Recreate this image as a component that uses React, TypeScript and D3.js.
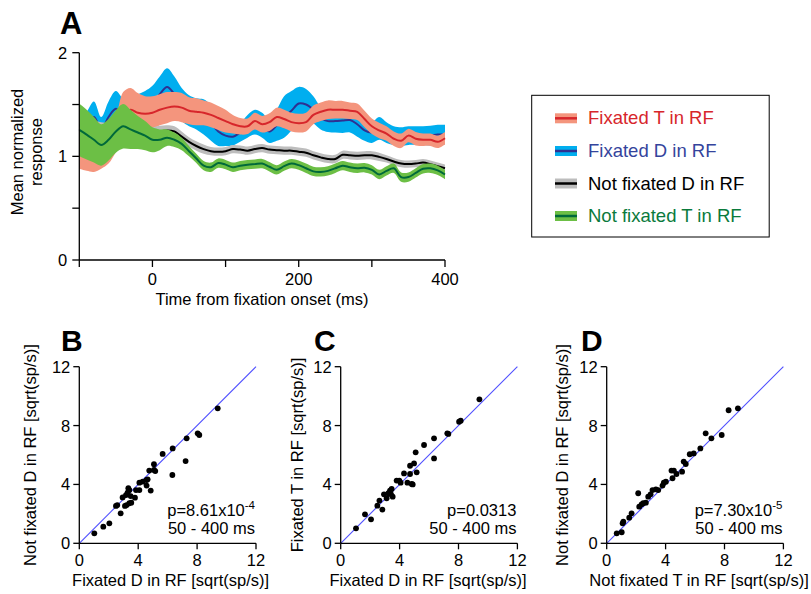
import React from "react";
import * as d3 from "d3";

// ---------- Panel A data ----------
const times = d3.range(-100, 401, 10);

const fixTMean = [1.13,1.10,1.08,1.10,1.13,1.22,1.38,1.45,1.42,1.41,1.42,1.45,1.47,1.48,1.47,1.44,1.43,1.42,1.40,1.37,1.34,1.31,1.29,1.29,1.34,1.31,1.33,1.38,1.36,1.33,1.32,1.33,1.40,1.43,1.45,1.45,1.45,1.44,1.43,1.36,1.29,1.25,1.22,1.17,1.15,1.20,1.17,1.16,1.16,1.14,1.175];
const fixTErr = [.25,.24,.23,.22,.2,.18,.24,.21,.19,.17,.16,.15,.15,.14,.14,.13,.13,.12,.12,.115,.11,.09,.08,.075,.08,.08,.085,.09,.09,.09,.09,.09,.09,.09,.09,.085,.085,.08,.08,.08,.075,.075,.07,.07,.07,.065,.065,.06,.06,.06,.06];

const fixDMean = [1.25,1.30,1.38,1.26,1.38,1.46,1.40,1.42,1.45,1.48,1.52,1.60,1.67,1.60,1.50,1.44,1.41,1.38,1.32,1.24,1.20,1.19,1.23,1.29,1.33,1.30,1.24,1.30,1.38,1.44,1.51,1.50,1.45,1.37,1.34,1.34,1.345,1.35,1.31,1.25,1.23,1.27,1.23,1.20,1.19,1.20,1.20,1.20,1.20,1.21,1.21];
const fixDErr = [.12,.13,.15,.12,.15,.17,.16,.15,.15,.15,.16,.17,.18,.17,.16,.15,.15,.17,.17,.14,.1,.085,.09,.11,.12,.12,.11,.15,.2,.19,.16,.15,.13,.11,.105,.11,.12,.12,.12,.1,.1,.11,.1,.09,.09,.09,.09,.09,.095,.095,.095];

const notFixDMean = [1.30,1.29,1.28,1.27,1.26,1.25,1.24,1.23,1.22,1.22,1.22,1.24,1.25,1.24,1.19,1.14,1.10,1.07,1.05,1.045,1.05,1.07,1.065,1.055,1.07,1.08,1.065,1.06,1.055,1.055,1.045,1.035,1.01,0.99,0.975,0.975,1.015,1.01,1.005,1.01,1.01,0.995,0.975,0.95,0.93,0.925,0.93,0.94,0.925,0.905,0.885];
const notFixDErr = [.06,.06,.06,.06,.06,.06,.06,.06,.06,.06,.06,.055,.05,.05,.05,.045,.045,.045,.04,.04,.04,.04,.04,.04,.04,.04,.04,.04,.04,.04,.04,.04,.04,.04,.04,.04,.04,.04,.04,.04,.04,.04,.035,.035,.035,.035,.035,.035,.035,.035,.035];

const notFixTMean = [1.255,1.21,1.16,1.11,1.16,1.24,1.29,1.26,1.23,1.20,1.16,1.16,1.18,1.16,1.12,1.05,0.98,0.91,0.895,0.935,0.92,0.895,0.91,0.92,0.925,0.93,0.90,0.87,0.905,0.93,0.915,0.885,0.855,0.85,0.86,0.885,0.91,0.895,0.885,0.89,0.87,0.825,0.86,0.885,0.80,0.80,0.84,0.88,0.885,0.865,0.825];
const notFixTErr = [.255,.24,.22,.2,.2,.205,.215,.19,.16,.14,.12,.1,.08,.07,.06,.05,.045,.045,.045,.045,.045,.045,.045,.045,.045,.045,.045,.045,.045,.045,.045,.045,.045,.045,.045,.045,.045,.045,.045,.045,.045,.045,.045,.045,.045,.045,.045,.045,.045,.045,.045];

const xTicksA = [-100, 0, 100, 200, 300, 400];
const xLabelsA = [0, 200, 400];
const yTicksA = [0, 0.5, 1, 1.5, 2];
const yLabelsA = [0, 1, 2];

const legendLabels = ["Fixated T in RF", "Fixated D in RF", "Not fixated D in RF", "Not fixated T in RF"];

// ---------- Scatter data ----------
const bX = [1.02,1.63,2.04,2.81,2.49,2.58,2.94,3.17,3.28,3.40,3.33,3.10,3.21,3.40,3.53,3.49,3.78,3.85,4.08,4.08,4.30,4.57,4.57,4.85,4.64,4.75,5.07,5.07,5.16,5.66,6.32,6.34,7.22,7.29,8.04,8.15,9.40];
const bY = [0.68,1.13,1.36,2.04,2.54,2.60,3.12,3.28,3.44,3.62,3.74,2.54,2.60,2.72,2.76,3.21,3.10,3.62,3.62,4.12,4.19,4.30,3.92,3.58,4.35,4.94,4.98,5.37,4.91,6.07,4.64,6.45,5.59,7.13,7.47,7.36,9.17];

const cX = [1.04,1.65,2.06,2.49,2.63,2.83,2.94,3.12,3.24,3.35,3.46,3.53,3.42,3.80,3.98,4.07,4.30,4.53,4.71,4.82,4.89,4.71,4.98,5.09,5.16,5.66,6.34,6.34,7.24,7.31,8.04,8.15,9.42];
const cY = [1.02,1.97,1.63,2.56,2.90,2.29,3.33,3.06,3.40,3.58,3.69,3.17,3.33,4.26,4.26,4.12,4.75,4.12,4.71,4.03,4.00,5.27,5.43,6.18,4.82,6.68,7.13,5.77,7.47,7.43,8.26,8.33,9.78];

const dX = [0.68,1.02,1.08,1.13,1.53,1.69,2.14,2.21,2.37,2.48,2.66,2.82,2.98,3.11,3.34,3.50,3.79,3.88,4.02,4.40,4.56,4.47,4.74,5.12,5.23,5.37,5.64,5.91,6.36,6.72,7.11,7.81,8.28,8.91];
const dY = [0.68,0.75,1.36,1.47,1.74,2.04,3.40,2.49,2.65,2.72,2.76,3.17,3.33,3.62,3.67,3.62,3.92,4.12,4.19,4.94,4.94,4.42,4.71,4.87,5.55,5.39,6.05,6.11,6.45,7.47,7.13,7.36,9.04,9.17];

const scatterTicks = [0, 4, 8, 12];

const FONT = "'Liberation Sans', Arial, Helvetica, sans-serif";

const xA = d3.scaleLinear().domain([-100, 400]).range([79.3, 445]);
const yA = d3.scaleLinear().domain([0, 2]).range([260, 52.7]);

function Band({ mean, err, fill, stroke }: { mean: number[]; err: number[]; fill: string; stroke: string }) {
  const curve = d3.curveCatmullRom.alpha(0.5);
  const area = d3
    .area<number>()
    .x((_, i) => xA(times[i]))
    .y0((m, i) => yA(m - err[i]))
    .y1((m, i) => yA(m + err[i]))
    .curve(curve);
  const line = d3
    .line<number>()
    .x((_, i) => xA(times[i]))
    .y((m) => yA(m))
    .curve(curve);
  return (
    <g>
      <path d={area(mean) || ""} fill={fill} stroke="none" />
      <path d={line(mean) || ""} fill="none" stroke={stroke} strokeWidth={2} />
    </g>
  );
}

function Scatter({
  x0, label, xs, ys, xLabel, yLabel, yLabelX, pMain, pExp, xLabelShift, titleX,
}: {
  x0: number; label: string; xs: number[]; ys: number[]; xLabel: string; yLabel: string;
  yLabelX: number; pMain: string; pExp: string | null; xLabelShift: number; titleX: number;
}) {
  const x = d3.scaleLinear().domain([0, 12]).range([x0, x0 + 176.7]);
  const y = d3.scaleLinear().domain([0, 12]).range([543.3, 366.7]);
  const cx = (x0 + x0 + 176.7) / 2 + xLabelShift;
  const diag = d3.line<number>().x((v) => x(v)).y((v) => y(v));
  return (
    <g fontFamily={FONT}>
      <text x={titleX} y={351} fontSize={30} fontWeight="bold" fill="#000">{label}</text>
      <path d={diag([0, 12]) || ""} fill="none" stroke="#4f4fff" strokeWidth={1.1} />
      {xs.map((v, i) => (
        <circle key={i} cx={x(v)} cy={y(ys[i])} r={2.9} fill="#000" />
      ))}
      <line x1={x(0)} y1={y(0)} x2={x(12)} y2={y(0)} stroke="#000" strokeWidth={1.3} />
      <line x1={x(0)} y1={y(0)} x2={x(0)} y2={y(12)} stroke="#000" strokeWidth={1.3} />
      {scatterTicks.map((t) => (
        <g key={"x" + t}>
          <line x1={x(t)} x2={x(t)} y1={y(0)} y2={y(0) + 6} stroke="#000" strokeWidth={1.3} />
          <text x={x(t)} y={y(0) + 23} fontSize={16.5} textAnchor="middle">{t}</text>
        </g>
      ))}
      {scatterTicks.map((t) => (
        <g key={"y" + t}>
          <line x1={x(0) - 6} x2={x(0)} y1={y(t)} y2={y(t)} stroke="#000" strokeWidth={1.3} />
          <text x={x(0) - 9} y={y(t) + 6} fontSize={16.5} textAnchor="end">{t}</text>
        </g>
      ))}
      <text x={cx} y={586} fontSize={16.5} textAnchor="middle">{xLabel}</text>
      <text transform={`translate(${yLabelX},455) rotate(-90)`} fontSize={16.5} textAnchor="middle">{yLabel}</text>
      <text x={x(12) - 1} y={516} fontSize={16.5} textAnchor="end">
        {pMain}
        {pExp ? <tspan dy={-7} fontSize={11.5}>{pExp}</tspan> : null}
      </text>
      <text x={x(12) - 1} y={534} fontSize={16.5} textAnchor="end">50 - 400 ms</text>
    </g>
  );
}

export default function App() {
  const legendColors = [
    { band: "#f4957d", line: "#d7262b", text: "#d7262b" },
    { band: "#00aeef", line: "#2e3192", text: "#34449c" },
    { band: "#bdbdbd", line: "#000000", text: "#000000" },
    { band: "#6cbf45", line: "#00693a", text: "#0a7a3c" },
  ];
  const legendRowY = [118.3, 151, 183.5, 216];
  return (
    <svg width={811} height={594} style={{ position: "absolute", left: 0, top: 0, background: "#fff" }}>
      <rect x={0} y={0} width={811} height={594} fill="#fff" />
      {/* Panel A */}
      <g fontFamily={FONT}>
        <text x={60} y={34} fontSize={31} fontWeight="bold">A</text>
        <Band mean={fixDMean} err={fixDErr} fill="#00aeef" stroke="#2e3192" />
        <Band mean={fixTMean} err={fixTErr} fill="#f4957d" stroke="#d7262b" />
        <Band mean={notFixDMean} err={notFixDErr} fill="#bdbdbd" stroke="#000000" />
        <Band mean={notFixTMean} err={notFixTErr} fill="#6cbf45" stroke="#00693a" />
        <line x1={xA(-100)} x2={xA(400)} y1={yA(0)} y2={yA(0)} stroke="#000" strokeWidth={1.3} />
        <line x1={xA(-100)} x2={xA(-100)} y1={yA(0)} y2={yA(2)} stroke="#000" strokeWidth={1.3} />
        {xTicksA.map((t) => (
          <line key={t} x1={xA(t)} x2={xA(t)} y1={yA(0)} y2={yA(0) + 7} stroke="#000" strokeWidth={1.3} />
        ))}
        {xLabelsA.map((t) => (
          <text key={t} x={xA(t)} y={yA(0) + 25} fontSize={16.5} textAnchor="middle">{t}</text>
        ))}
        {yTicksA.map((t) => (
          <line key={t} x1={xA(-100) - 7} x2={xA(-100)} y1={yA(t)} y2={yA(t)} stroke="#000" strokeWidth={1.3} />
        ))}
        {yLabelsA.map((t) => (
          <text key={t} x={xA(-100) - 12} y={yA(t) + 6} fontSize={16.5} textAnchor="end">{t}</text>
        ))}
        <text x={262} y={305} fontSize={16.5} textAnchor="middle">Time from fixation onset (ms)</text>
        <text transform="translate(23,152) rotate(-90)" fontSize={16.5} textAnchor="middle">Mean normalized</text>
        <text transform="translate(42,152) rotate(-90)" fontSize={16.5} textAnchor="middle">response</text>
      </g>
      {/* Legend */}
      <g fontFamily={FONT}>
        <rect x={531.7} y={95.3} width={237.5} height={141.7} fill="none" stroke="#000" strokeWidth={1} />
        {legendLabels.map((lab, i) => (
          <g key={lab}>
            <rect x={555} y={legendRowY[i] - 5} width={22} height={10} fill={legendColors[i].band} />
            <line x1={555} x2={577} y1={legendRowY[i]} y2={legendRowY[i]} stroke={legendColors[i].line} strokeWidth={2.5} />
            <text x={588} y={legendRowY[i] + 6} fontSize={18.5} fill={legendColors[i].text}>{lab}</text>
          </g>
        ))}
      </g>
      <Scatter x0={79.3} label="B" titleX={61} xs={bX} ys={bY} xLabel="Fixated D in RF [sqrt(sp/s)]"
        yLabel="Not fixated D in RF [sqrt(sp/s)]" yLabelX={35.5} pMain="p=8.61x10" pExp="-4" xLabelShift={3} />
      <Scatter x0={340.7} label="C" titleX={314} xs={cX} ys={cY} xLabel="Fixated D in RF [sqrt(sp/s)]"
        yLabel="Fixated T in RF [sqrt(sp/s)]" yLabelX={302.5} pMain="p=0.0313" pExp={null} xLabelShift={-1} />
      <Scatter x0={606.7} label="D" titleX={581} xs={dX} ys={dY} xLabel="Not fixated T in RF [sqrt(sp/s)]"
        yLabel="Not fixated D in RF [sqrt(sp/s)]" yLabelX={567.5} pMain="p=7.30x10" pExp="-5" xLabelShift={4} />
    </svg>
  );
}
